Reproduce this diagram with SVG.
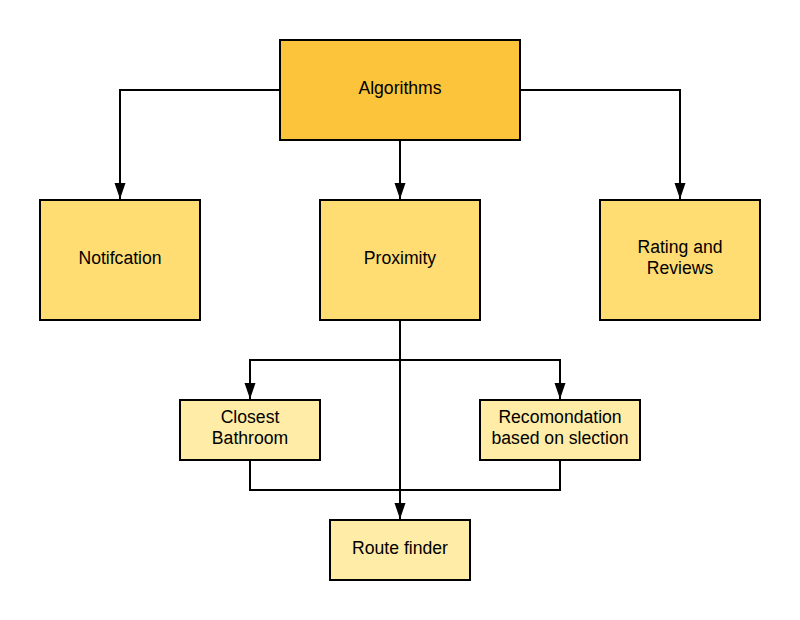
<svg xmlns="http://www.w3.org/2000/svg" width="800" height="620" viewBox="0 0 800 620">
<style>
.box{stroke:#000;stroke-width:2}
.l1{fill:#FCC43A}
.l2{fill:#FFDD73}
.l3{fill:#FFECA6}
.t{font-family:"Liberation Sans",Arial,sans-serif;font-size:17.6px;fill:#000;text-anchor:middle}
.c{fill:none;stroke:#000;stroke-width:2}
</style>
<defs>
<marker id="ah" markerWidth="16" markerHeight="12" refX="16" refY="6" orient="auto" markerUnits="userSpaceOnUse">
<path d="M0,0.5 L16,6 L0,11.5 Z" fill="#000"/>
</marker>
</defs>
<rect width="800" height="620" fill="#fff"/>
<g id="connectors">
<path class="c" d="M280,90 H120 V199" marker-end="url(#ah)"/>
<path class="c" d="M520,90 H680 V199" marker-end="url(#ah)"/>
<path class="c" d="M400,140 V199" marker-end="url(#ah)"/>
<path class="c" d="M400,320 V519" marker-end="url(#ah)"/>
<path class="c" d="M400,360 H250 V399" marker-end="url(#ah)"/>
<path class="c" d="M400,360 H560 V399" marker-end="url(#ah)"/>
<path class="c" d="M250,460 V490 H400"/>
<path class="c" d="M560,460 V490 H400"/>
</g>
<g id="algorithms">
<rect class="box l1" x="280" y="40" width="240" height="100"/>
<text class="t" x="400" y="94">Algorithms</text>
</g>
<g id="notification">
<rect class="box l2" x="40" y="200" width="160" height="120"/>
<text class="t" x="120" y="264">Notifcation</text>
</g>
<g id="proximity">
<rect class="box l2" x="320" y="200" width="160" height="120"/>
<text class="t" x="400" y="264">Proximity</text>
</g>
<g id="rating">
<rect class="box l2" x="600" y="200" width="160" height="120"/>
<text class="t" x="680" y="253">Rating and</text>
<text class="t" x="680" y="274">Reviews</text>
</g>
<g id="closest">
<rect class="box l3" x="180" y="400" width="140" height="60"/>
<text class="t" x="250" y="423">Closest</text>
<text class="t" x="250" y="444">Bathroom</text>
</g>
<g id="recomondation">
<rect class="box l3" x="480" y="400" width="160" height="60"/>
<text class="t" x="560" y="423">Recomondation</text>
<text class="t" x="560" y="444">based on slection</text>
</g>
<g id="route">
<rect class="box l3" x="330" y="520" width="140" height="60"/>
<text class="t" x="400" y="554">Route finder</text>
</g>
</svg>
